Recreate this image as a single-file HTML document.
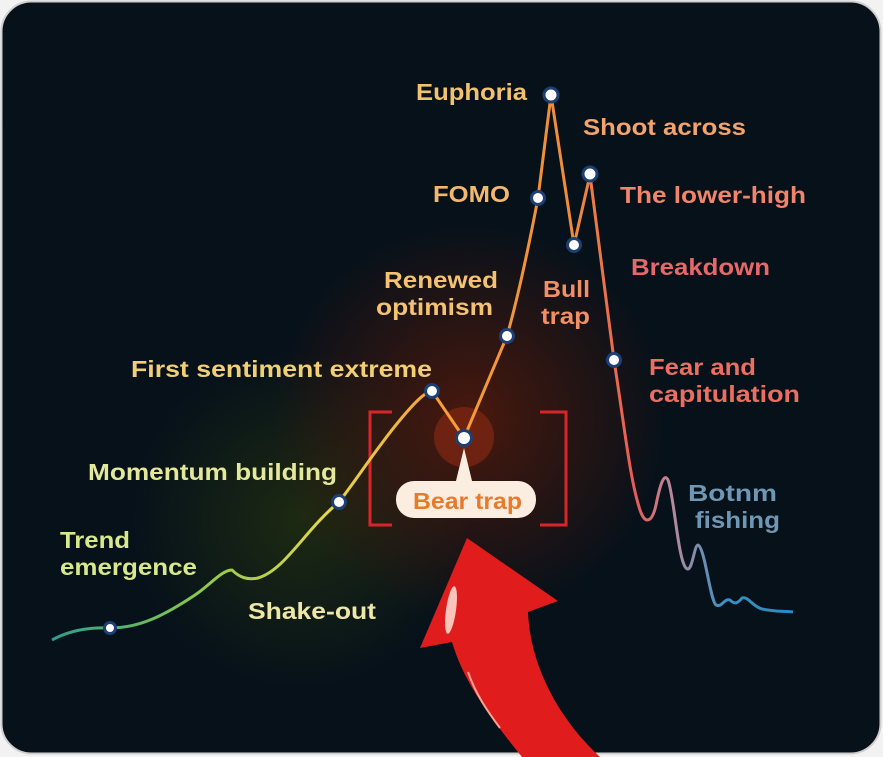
<!DOCTYPE html>
<html><head><meta charset="utf-8"><style>
html,body{margin:0;padding:0;background:#f2f2f2;}
svg{display:block;}
text{font-family:"Liberation Sans",sans-serif;font-weight:bold;font-size:23px;}
</style></head><body>
<svg width="883" height="757" viewBox="0 0 883 757" xmlns="http://www.w3.org/2000/svg">
<defs>
<linearGradient id="ln" gradientUnits="userSpaceOnUse" x1="50" y1="0" x2="800" y2="0">
<stop offset="0" stop-color="#2a9d8f"/>
<stop offset="0.2" stop-color="#8cc84b"/>
<stop offset="0.37" stop-color="#e6d84a"/>
<stop offset="0.52" stop-color="#f5a03a"/>
<stop offset="0.7" stop-color="#f08a3a"/>
<stop offset="0.78" stop-color="#e85a58"/>
<stop offset="0.83" stop-color="#b88a9c"/>
<stop offset="0.9" stop-color="#3a8fc2"/>
<stop offset="1" stop-color="#2f86c0"/>
</linearGradient>
<radialGradient id="g1" cx="470" cy="420" r="200" gradientUnits="userSpaceOnUse">
<stop offset="0" stop-color="#5a1a0a" stop-opacity="0.8"/>
<stop offset="1" stop-color="#5a1a0a" stop-opacity="0"/>
</radialGradient>
<radialGradient id="g2" cx="300" cy="520" r="170" gradientUnits="userSpaceOnUse">
<stop offset="0" stop-color="#2c3a0c" stop-opacity="0.6"/>
<stop offset="1" stop-color="#2c3a0c" stop-opacity="0"/>
</radialGradient>
</defs>
<rect x="1.5" y="1.5" width="879" height="752" rx="30" fill="#06111a" stroke="#cfcfcf" stroke-width="2"/>
<rect x="2" y="2" width="878" height="751" rx="30" fill="url(#g2)"/>
<rect x="2" y="2" width="878" height="751" rx="30" fill="url(#g1)"/>
<circle cx="464" cy="437" r="30" fill="#7a2512" opacity="0.8"/>
<path d="M392 412 H370 V525 H392" fill="none" stroke="#d7262a" stroke-width="3"/>
<path d="M540 412 H566 V525 H540" fill="none" stroke="#d7262a" stroke-width="3"/>
<path d="M52 640 C70 630 90 627 110 628 C140 628 165 615 195 595 C210 585 222 570 232 570 C240 578 248 580 258 578 C285 570 305 530 339 502 C360 475 375 450 400 420 C415 402 425 392 432 391 L464 438 L507 336 C520 290 530 240 538 198 L551 95 L574 245 L590 175 C600 250 606 300 614 360 C625 430 630 480 640 510 C645 525 652 523 656 505 C660 485 664 472 668 480 C674 495 678 560 686 568 C692 575 694 545 698 545 C705 548 710 600 716 605 C722 608 724 598 730 600 C735 605 738 603 742 598 C748 596 752 606 762 609 C775 612 785 611 793 612" fill="none" stroke="url(#ln)" stroke-width="3" stroke-linejoin="round"/>
<g fill="#fff" stroke="#1d3f73" stroke-width="3">
<circle cx="110" cy="628" r="5.5"/>
<circle cx="339" cy="502" r="6.5"/>
<circle cx="432" cy="391" r="6.5"/>
<circle cx="464" cy="438" r="7.5"/>
<circle cx="507" cy="336" r="6.5"/>
<circle cx="538" cy="198" r="6.5"/>
<circle cx="551" cy="95" r="7"/>
<circle cx="574" cy="245" r="6.5"/>
<circle cx="590" cy="174" r="7"/>
<circle cx="614" cy="360" r="6.5"/>
</g>
<path d="M455 485 L464 448 L473 485 Z" fill="#fbeee0"/>
<rect x="396" y="481" width="140" height="37" rx="18" fill="#fbeee0"/>
<text x="413" y="509" fill="#e87a2c" textLength="109" lengthAdjust="spacingAndGlyphs">Bear trap</text>
<!-- arrow -->
<path d="M467 538 L558 601 L528 612 C530 662 555 715 600 757 L522 757 C488 715 463 680 452 642 L420 648 Z" fill="#e01c1c"/>
<ellipse cx="451" cy="610" rx="5" ry="24" fill="#ffd6cc" opacity="0.9" transform="rotate(8 451 610)"/>
<path d="M468 672 C476 695 488 712 500 728" stroke="#ffa090" stroke-width="2" fill="none"/>
<g>
<text x="60" y="548" fill="#d7e98a" textLength="70" lengthAdjust="spacingAndGlyphs">Trend</text>
<text x="60" y="575" fill="#d7e98a" textLength="137" lengthAdjust="spacingAndGlyphs">emergence</text>
<text x="88" y="480" fill="#e4e89a" textLength="249" lengthAdjust="spacingAndGlyphs">Momentum building</text>
<text x="248" y="619" fill="#efe7a8" textLength="128" lengthAdjust="spacingAndGlyphs">Shake-out</text>
<text x="131" y="377" fill="#f2cf72" textLength="301" lengthAdjust="spacingAndGlyphs">First sentiment extreme</text>
<text x="384" y="288" fill="#f3c372" textLength="114" lengthAdjust="spacingAndGlyphs">Renewed</text>
<text x="376" y="315" fill="#f3c372" textLength="117" lengthAdjust="spacingAndGlyphs">optimism</text>
<text x="433" y="202" fill="#f3b86c" textLength="77" lengthAdjust="spacingAndGlyphs">FOMO</text>
<text x="416" y="100" fill="#f3c26e" textLength="111" lengthAdjust="spacingAndGlyphs">Euphoria</text>
<text x="583" y="135" fill="#f3a36c" textLength="163" lengthAdjust="spacingAndGlyphs">Shoot across</text>
<text x="620" y="203" fill="#f2846a" textLength="186" lengthAdjust="spacingAndGlyphs">The lower-high</text>
<text x="543" y="297" fill="#f09064" textLength="47" lengthAdjust="spacingAndGlyphs">Bull</text>
<text x="541" y="324" fill="#f09064" textLength="49" lengthAdjust="spacingAndGlyphs">trap</text>
<text x="631" y="275" fill="#e8686a" textLength="139" lengthAdjust="spacingAndGlyphs">Breakdown</text>
<text x="649" y="375" fill="#ec6e60" textLength="107" lengthAdjust="spacingAndGlyphs">Fear and</text>
<text x="649" y="402" fill="#ec6e60" textLength="151" lengthAdjust="spacingAndGlyphs">capitulation</text>
<text x="688" y="501" fill="#6f97b4" textLength="89" lengthAdjust="spacingAndGlyphs">Botnm</text>
<text x="695" y="528" fill="#6f97b4" textLength="85" lengthAdjust="spacingAndGlyphs">fishing</text>
</g>
</svg>
</body></html>
